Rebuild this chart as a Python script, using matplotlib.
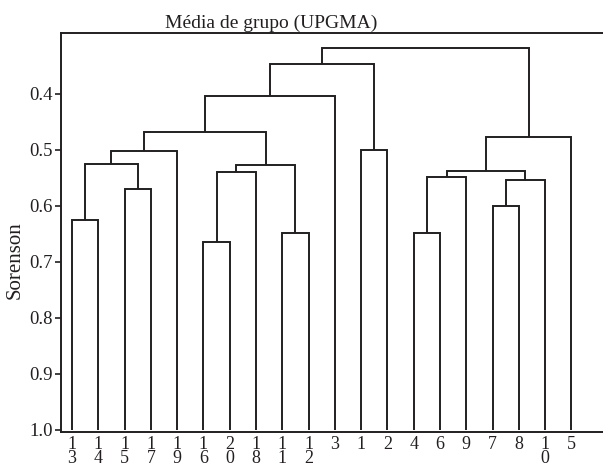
import matplotlib.pyplot as plt

plt.rcParams['font.family'] = ['Liberation Serif', 'DejaVu Serif']

# leaf order along the x axis
leaves = ["13", "14", "15", "17", "19", "16", "20", "18", "11", "12",
          "3", "1", "2", "4", "6", "9", "7", "8", "10", "5"]

# merges: child a, child b (leaf index or 20+ for earlier merges), height
merge_a = [0, 2, 20, 22, 5, 24, 8, 25, 23, 28, 11, 29, 13, 32, 16, 34, 33, 36, 31]
merge_b = [1, 3, 21, 4, 6, 7, 9, 26, 27, 10, 12, 30, 14, 15, 17, 18, 35, 19, 37]
merge_h = [0.626, 0.570, 0.526, 0.502, 0.665, 0.540, 0.648, 0.527, 0.468, 0.403,
           0.500, 0.346, 0.648, 0.549, 0.600, 0.554, 0.538, 0.477, 0.318]

line_col = '#231f20'

fig = plt.figure(figsize=(6.03, 4.69), dpi=100)
ax = fig.add_axes([0.101, 0.079, 0.899, 0.851])

xpos = {i: float(i) for i in range(len(leaves))}
hpos = {i: 1.0 for i in range(len(leaves))}

for k, (a, b, h) in enumerate(zip(merge_a, merge_b, merge_h)):
    node = len(leaves) + k
    ax.plot([xpos[a], xpos[a], xpos[b], xpos[b]], [hpos[a], h, h, hpos[b]],
            color=line_col, lw=1.4, solid_capstyle='butt', solid_joinstyle='miter')
    xpos[node] = (xpos[a] + xpos[b]) / 2
    hpos[node] = h

ax.set_xlim(-0.42, 20.2)
ax.set_ylim(1.0036, 0.291)
ax.set_yticks([0.4, 0.5, 0.6, 0.7, 0.8, 0.9, 1.0])
ax.set_yticklabels(['0.4', '0.5', '0.6', '0.7', '0.8', '0.9', '1.0'])
ax.set_xticks(range(len(leaves)))
ax.set_xticklabels(["\n".join(s) for s in leaves], linespacing=0.78)

ax.tick_params(axis='x', length=0, pad=3, labelsize=13, colors=line_col)
ax.tick_params(axis='y', length=4, width=1.2, pad=2, labelsize=13.5,
               colors=line_col, direction='out')

for side in ['left', 'top', 'bottom']:
    ax.spines[side].set_linewidth(1.4)
    ax.spines[side].set_color(line_col)
ax.spines['right'].set_visible(False)

ax.set_ylabel("Sorenson", fontsize=15, color=line_col)
ax.yaxis.set_label_coords(-0.066, 0.431)

fig.text(0.449, 1 - 23 / 469, "Média de grupo (UPGMA)", ha='center', va='center',
         fontsize=14, color=line_col)

fig.savefig("out.png", dpi=100)
